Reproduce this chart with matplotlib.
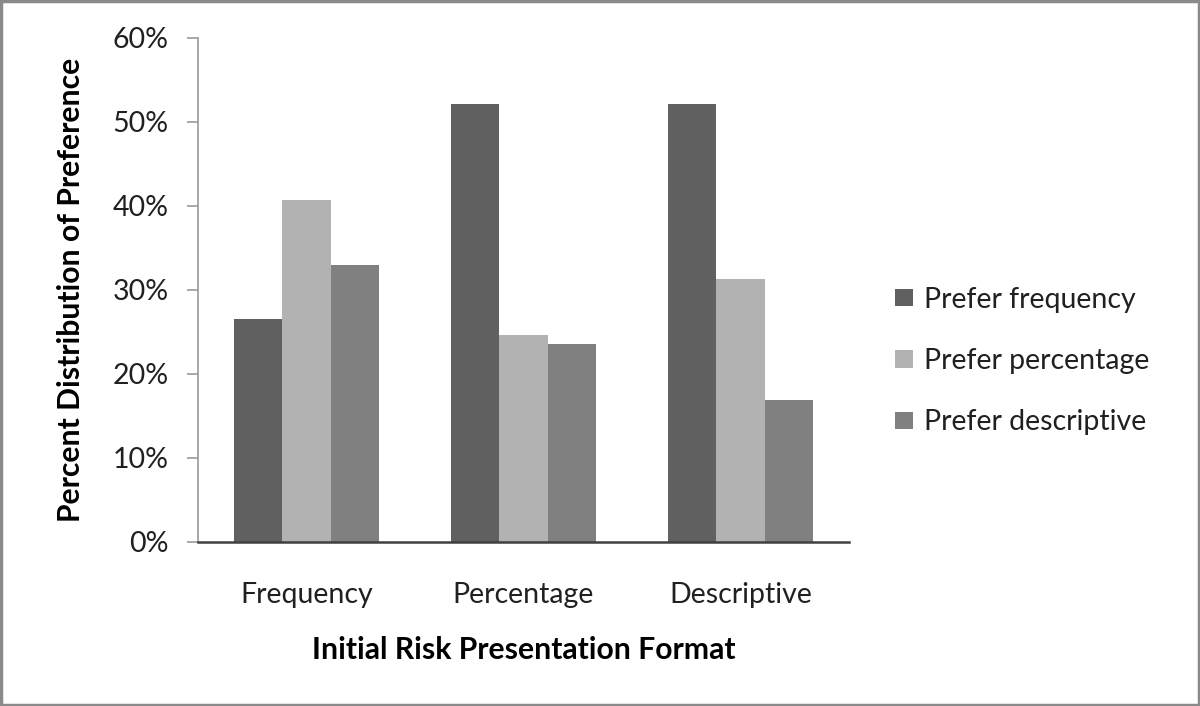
import matplotlib
matplotlib.use("Agg")
import matplotlib.pyplot as plt
import numpy as np
from matplotlib.ticker import PercentFormatter
from matplotlib.patches import Rectangle

categories = ["Frequency", "Percentage", "Descriptive"]
series_names = ["Prefer frequency", "Prefer percentage", "Prefer descriptive"]
prefer_frequency = [26.6, 52.1, 52.1]
prefer_percentage = [40.7, 24.7, 31.3]
prefer_descriptive = [33.0, 23.6, 16.9]
y_ticks = [0, 10, 20, 30, 40, 50, 60]

colors = ["#606060", "#b2b2b2", "#808080"]
plt.rcParams['font.family'] = ['Lato', 'DejaVu Sans']
FS = 20.5

fig = plt.figure(figsize=(12, 7.06), dpi=100)
ax = fig.add_axes([0.165, 0.2323, 0.7075 - 0.165, 0.9462 - 0.2323])

x = np.arange(len(categories))
w = 0.664 / 3
for i, (vals, name, c) in enumerate(zip([prefer_frequency, prefer_percentage, prefer_descriptive], series_names, colors)):
    ax.bar(x + (i - 1) * w, vals, width=w, color=c, label=name, edgecolor='none')

ax.set_xlim(-0.5, 2.5)
ax.set_ylim(0, 60)
ax.set_yticks(y_ticks)
ax.yaxis.set_major_formatter(PercentFormatter(decimals=0))
ax.set_xticks(x)
ax.set_xticklabels(categories, fontsize=FS, color='#202020')
ax.tick_params(axis='x', length=0, pad=29)
ax.tick_params(axis='y', length=8, color='#9a9a9a', width=1.2, labelsize=FS, pad=13, labelcolor='#202020')
for s in ['top', 'right']:
    ax.spines[s].set_visible(False)
ax.spines['left'].set_color('#9a9a9a')
ax.spines['left'].set_linewidth(1.2)
ax.spines['bottom'].set_color('#404040')
ax.spines['bottom'].set_linewidth(1.8)

ax.set_ylabel("Percent Distribution of Preference", fontsize=21.7, fontweight='bold', labelpad=20)
ax.set_xlabel("Initial Risk Presentation Format", fontsize=21.7, fontweight='bold', labelpad=20)

leg = ax.legend(loc='center left', bbox_to_anchor=(1.031, 0.359), frameon=False, fontsize=FS,
                handlelength=0.63, handleheight=0.56, handletextpad=0.4, labelspacing=1.24)
for t in leg.get_texts():
    t.set_color('#202020')

fig.add_artist(Rectangle((0.001, 0.001), 0.998, 0.997, transform=fig.transFigure,
                         fill=False, edgecolor='#8a8a8a', linewidth=2.5))

fig.savefig("out.png", dpi=100)
